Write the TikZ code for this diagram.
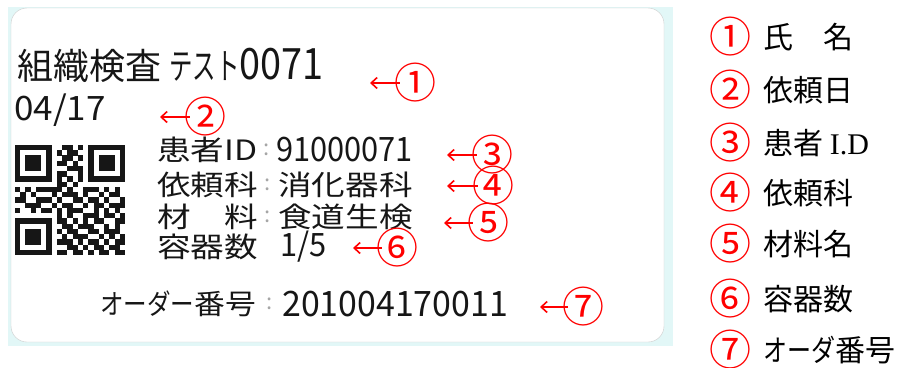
\documentclass[tikz,border=0pt]{standalone}
\usepackage{fontspec}
\usepackage{graphicx}
\setmainfont{Noto Sans CJK JP}
\newfontfamily\serifrm{Liberation Serif}
\usetikzlibrary{arrows.meta}
\definecolor{mark}{RGB}{255,0,0}
\definecolor{scanbg}{RGB}{226,247,247}
\definecolor{ink}{RGB}{22,22,22}
\newcount\qrcx
\def\qrscan#1{\ifx#1.\else\if#11\fill[ink] ({15+\the\qrcx*5.24},{145+\qrr*5.24}) rectangle ++(5.3,5.3);\fi\advance\qrcx by 1 \expandafter\qrscan\fi}
\tikzset{
  cardtxt/.style={anchor=west, inner sep=0pt, text=ink, font=\fontsize{28}{28}\selectfont},
  colontxt/.style={anchor=center, inner sep=0pt, text=gray!70, font=\fontsize{22}{22}\selectfont},
  circnum/.style={inner sep=0pt, text=mark, text height=30pt, text depth=-2pt, font=\fontsize{42}{42}\selectfont},
  pointer/.style={draw=mark, line width=1.6pt, shorten <=-6pt, -{Straight Barb[length=6pt,width=11pt]}},
  legtxt/.style={anchor=west, inner sep=0pt, text=black, font=\fontsize{30}{30}\selectfont},
}
\begin{document}
\begin{tikzpicture}[x=1pt,y=-1pt]
\useasboundingbox (0,0) rectangle (900,367);
% scanned label
\fill[scanbg] (8,7) rectangle (673,346);
\draw[gray!40, fill=white, rounded corners=16pt] (11,8) rectangle (664,342);
% QR code
\foreach \rowstr [count=\qrr from 0] in {
111111100110101111111,
100000101011001000001,
101110100110101011101,
101110101101001011101,
101110100011101011101,
100000101100101000001,
111111101010101111111,
000000001101000000000,
101011111010011101010,
010100010111010010110,
110011101001101101001,
001110010110010110111,
100101101011100101010,
000000001010011101101,
111111101101010110011,
100000100110111001010,
101110101011001101110,
101110100101110010101,
101110101110101101011,
100000100011010110110,
111111101101101011011}
{\qrcx=0 \expandafter\qrscan\rowstr.}
% card texts
\node[cardtxt, font=\fontsize{36}{36}\selectfont] (title) at (17,65) {組織検査 \scalebox{0.65}[1]{テスト}\scalebox{1.05}[1.2]{0071}};
\node[cardtxt] (date) at (14,110) {\scalebox{1.25}[1.2]{04/17}};
\node[cardtxt] (k1) at (157,150) {\scalebox{1.2}[1]{患者ID}};
\node[colontxt] (c1) at (267,150) {:};
\node[cardtxt] (v1) at (276,150) {\scalebox{1.1}[1.2]{91000071}};
\node[cardtxt] (k2) at (157,185) {\scalebox{1.2}[1]{依頼科}};
\node[colontxt] (c2) at (268,185) {:};
\node[cardtxt] (v2) at (278,185) {\scalebox{1.2}[1]{消化器科}};
\node[cardtxt] (k3) at (157,217) {\scalebox{1.2}[1]{材　料}};
\node[colontxt] (c3) at (268,217) {:};
\node[cardtxt] (v3) at (278,217) {\scalebox{1.2}[1]{食道生検}};
\node[cardtxt] (k4) at (157,247) {\scalebox{1.2}[1]{容器数}};
\node[cardtxt] (v4) at (280,247) {\scalebox{1.1}[1.15]{1/5}};
\node[cardtxt] (k5) at (100,304) {\scalebox{0.84}[1]{オーダー}\scalebox{1.1}[1]{番号}};
\node[colontxt] (c5) at (270,304) {:};
\node[cardtxt] (v5) at (282,304) {\scalebox{1.21}[1.25]{201004170011}};
% pointers
\node[circnum] (n1) at (415,83) {①};
\node[circnum] (n2) at (205,117) {②};
\node[circnum] (n3) at (492,155) {③};
\node[circnum] (n4) at (493,186) {④};
\node[circnum] (n5) at (488,223) {⑤};
\node[circnum] (n6) at (397,248) {⑥};
\node[circnum] (n7) at (583,307) {⑦};
\coordinate (p1) at (370,83);
\coordinate (p2) at (160,117);
\coordinate (p3) at (447,155);
\coordinate (p4) at (447,186);
\coordinate (p5) at (444,223);
\coordinate (p6) at (353,248);
\coordinate (p7) at (540,307);
\foreach \i in {1,...,7} {\draw[pointer] (n\i.west) -- (p\i);}
% legend
\node[circnum] (l1) at (730,37) {①};
\node[circnum] (l2) at (730,90) {②};
\node[circnum] (l3) at (730,143) {③};
\node[circnum] (l4) at (730,193) {④};
\node[circnum] (l5) at (730,244) {⑤};
\node[circnum] (l6) at (730,299) {⑥};
\node[circnum] (l7) at (730,350) {⑦};
\node[legtxt] (t1) at (763,37) {氏　名};
\node[legtxt] (t2) at (763,90) {依頼日};
\node[legtxt] (t3) at (763,143) {患者 {\serifrm I.D}};
\node[legtxt] (t4) at (763,193) {依頼科};
\node[legtxt] (t5) at (763,244) {材料名};
\node[legtxt] (t6) at (763,299) {容器数};
\node[legtxt] (t7) at (763,350) {\scalebox{0.8}[1]{オーダ}番号};
\end{tikzpicture}
\end{document}
